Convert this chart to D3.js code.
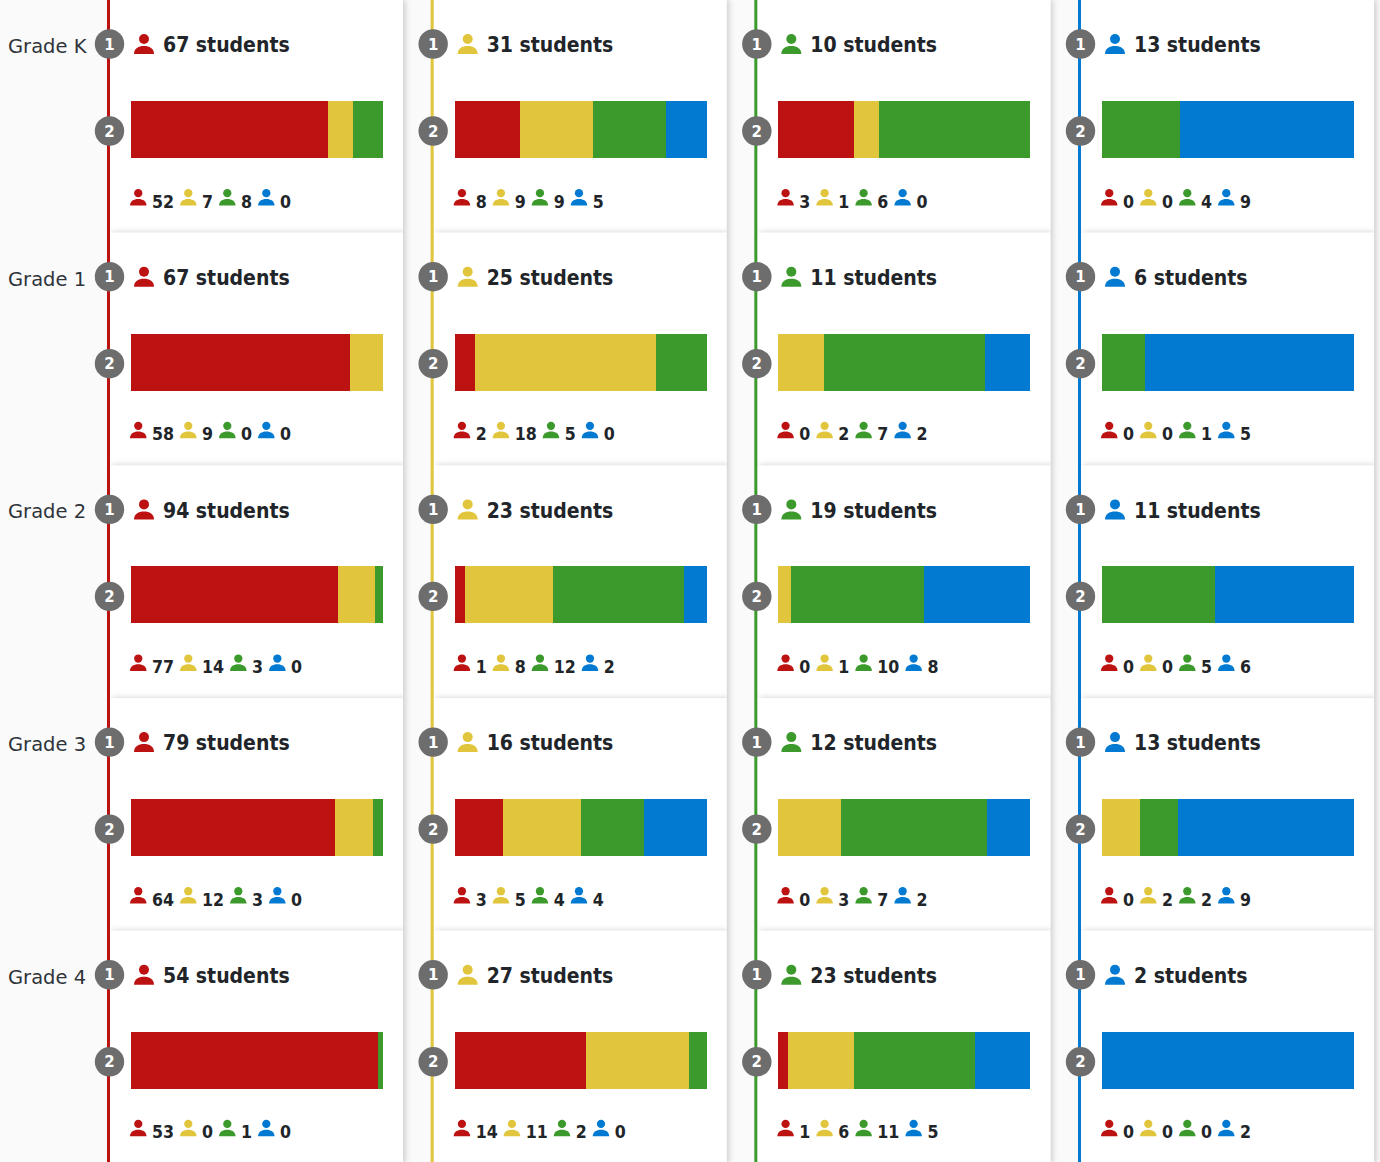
<!DOCTYPE html>
<html>
<head>
<meta charset="utf-8">
<script src="https://cdn.jsdelivr.net/npm/d3@7"></script>
<style>
  html, body { margin: 0; padding: 0; background: #fafafa; overflow: hidden; }
  text { font-family: "DejaVu Sans", sans-serif; fill: #212529; }
  .grade { font-size: 19.5px; fill: #2f343a; }
  .total { font-family: "DejaVu Sans Condensed", "DejaVu Sans", sans-serif; font-stretch: condensed; font-size: 21px; font-weight: 700; }
  .count { font-family: "DejaVu Sans Condensed", "DejaVu Sans", sans-serif; font-stretch: condensed; font-size: 17.6px; font-weight: 700; }
  .step { font-size: 15px; font-weight: 700; fill: #fff; text-anchor: middle; }
</style>
</head>
<body>
<div id="chart"></div>
<script>
var svgWidth = 1380;
var svgHeight = 1162;

// Data, one array per start group, rows follow the grades
var grades = ["Grade K", "Grade 1", "Grade 2", "Grade 3", "Grade 4"];
var groups = ["red", "yellow", "green", "blue"];
var colors = ["#bd1212", "#e1c63d", "#3c9a2d", "#027ad2"];

var redCounts = [
  [52, 7, 8, 0],
  [58, 9, 0, 0],
  [77, 14, 3, 0],
  [64, 12, 3, 0],
  [53, 0, 1, 0]
];
var yellowCounts = [
  [8, 9, 9, 5],
  [2, 18, 5, 0],
  [1, 8, 12, 2],
  [3, 5, 4, 4],
  [14, 11, 2, 0]
];
var greenCounts = [
  [3, 1, 6, 0],
  [0, 2, 7, 2],
  [0, 1, 10, 8],
  [0, 3, 7, 2],
  [1, 6, 11, 5]
];
var blueCounts = [
  [0, 0, 4, 9],
  [0, 0, 1, 5],
  [0, 0, 5, 6],
  [0, 2, 2, 9],
  [0, 0, 0, 2]
];
var allCounts = [redCounts, yellowCounts, greenCounts, blueCounts];

var cardWidth = 293;
var cardHeight = 232.7;
var barWidth = 252;
var barHeight = 57;

var colX = d3.scaleLinear().domain([0, 3]).range([110, 1081]);
var rowY = d3.scaleLinear().domain([0, 4]).range([0, cardHeight * 4]);

var svg = d3.select("#chart")
  .append("svg")
  .attr("width", svgWidth)
  .attr("height", svgHeight)
  .style("display", "block");

var defs = svg.append("defs");
var shadow = defs.append("filter")
  .attr("id", "cardShadow")
  .attr("x", "-10%").attr("y", "-10%")
  .attr("width", "120%").attr("height", "120%");
shadow.append("feDropShadow")
  .attr("dx", 2).attr("dy", 0)
  .attr("stdDeviation", 3)
  .attr("flood-color", "#000")
  .attr("flood-opacity", 0.2);

// person icon, origin at top left of a 20px box
function person(sel, x, y, size, color) {
  var k = size / 20;
  var g = sel.append("g")
    .attr("transform", `translate(${x}, ${y}) scale(${k})`)
    .attr("fill", color);
  g.append("circle").attr("cx", 10).attr("cy", 5).attr("r", 5);
  g.append("path").attr("d", "M0 20 C0 14.5 4.5 12 10 12 C15.5 12 20 14.5 20 20 Z");
}

function stepBadge(sel, x, y, label) {
  sel.append("circle")
    .attr("cx", x).attr("cy", y).attr("r", 14.7)
    .attr("fill", "#6d6d6d");
  sel.append("text")
    .attr("class", "step")
    .attr("x", x).attr("y", y + 5.5)
    .text(label);
}

var cards = svg.append("g");
var lines = svg.append("g");
var content = svg.append("g");

// cards first so the shadows stay under everything else
groups.forEach(function (group, c) {
  grades.forEach(function (grade, r) {
    cards.append("rect")
      .attr("x", colX(c))
      .attr("y", rowY(r))
      .attr("width", cardWidth)
      .attr("height", cardHeight)
      .attr("fill", "#fff")
      .attr("filter", "url(#cardShadow)");
  });

  lines.append("rect")
    .attr("x", colX(c) - 3)
    .attr("y", 0)
    .attr("width", 3)
    .attr("height", svgHeight)
    .attr("fill", colors[c]);
});

grades.forEach(function (grade, r) {
  content.append("text")
    .attr("class", "grade")
    .attr("x", 8)
    .attr("y", rowY(r) + 53)
    .text(grade);
});

allCounts.forEach(function (counts, c) {
  counts.forEach(function (row, r) {
    var x0 = colX(c);
    var y0 = rowY(r);
    var total = d3.sum(row);
    var g = content.append("g");

    stepBadge(g, x0 - 0.5, y0 + 44, "1");
    stepBadge(g, x0 - 0.5, y0 + 131, "2");

    person(g, x0 + 24, y0 + 34, 20, colors[c]);
    g.append("text")
      .attr("class", "total")
      .attr("x", x0 + 53)
      .attr("y", y0 + 52.3)
      .text(total + " students");

    // stacked bar, the segments are whole percents
    var percents = row.map(v => Math.round(v / total * 100));
    var barX = d3.scaleLinear().domain([0, d3.sum(percents)]).range([x0 + 21, x0 + 21 + barWidth]);
    var stack = d3.stack().keys([0, 1, 2, 3])([percents]);
    g.selectAll("rect.seg")
      .data(stack)
      .enter()
      .append("rect")
      .attr("class", "seg")
      .attr("x", d => barX(d[0][0]))
      .attr("y", y0 + 101)
      .attr("width", d => barX(d[0][1]) - barX(d[0][0]))
      .attr("height", barHeight)
      .attr("shape-rendering", "crispEdges")
      .attr("fill", (d, i) => colors[i]);

    // legend row flows after the width of each number
    var lx = x0 + 20;
    row.forEach(function (v, i) {
      person(g, lx, y0 + 189, 16.5, colors[i]);
      var t = g.append("text")
        .attr("class", "count")
        .attr("x", lx + 22)
        .attr("y", y0 + 207.5)
        .text(v);
      lx += 22 + t.node().getComputedTextLength() + 6;
    });
  });
});
</script>
</body>
</html>
